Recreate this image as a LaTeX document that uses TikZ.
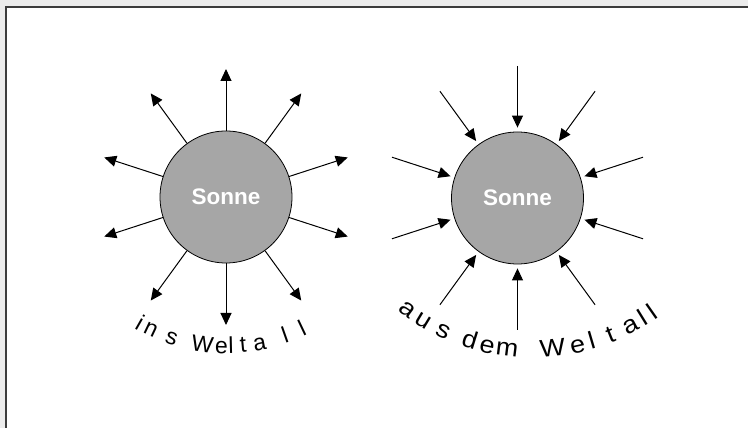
\documentclass[tikz,border=0pt]{standalone}
\usepackage{fontspec}
\setmainfont{Liberation Sans}
\newfontfamily\arcfontL{Liberation Sans}
\newfontfamily\arcfontR[FakeStretch=1.1]{Liberation Sans}
\usetikzlibrary{arrows.meta,calc}
\definecolor{sungray}{RGB}{166,166,166}
\definecolor{framegray}{RGB}{60,60,60}
\definecolor{bggray}{RGB}{236,236,236}
\begin{document}
\begin{tikzpicture}[x=1pt,y=1pt,
  sun/.style={circle, draw=black, line width=0.8pt, fill=sungray, minimum size=132pt, inner sep=0pt,
    font=\bfseries\fontsize{22.5}{24}\selectfont, text=white},
  ray/.style={line width=1pt, -{Triangle[length=12pt,width=11pt]}},
  letterL/.style={anchor=base, inner sep=0pt, font=\arcfontL\fontsize{23}{23}\selectfont},
  letterR/.style={anchor=base, inner sep=0pt, font=\arcfontR\fontsize{24.5}{24.5}\selectfont}]
\useasboundingbox (0,0) rectangle (748,428);
\fill[bggray] (0,0) rectangle (748,428);
\filldraw[fill=white, draw=framegray, line width=2pt] (6,-10) rectangle (760,421);

\node[sun] (s1) at (226,231) {Sonne};
\node[sun] (s2) at (517.5,230) {Sonne};

% outward rays
\foreach \a [count=\k] in {18,54,90,126,162,198,234,270,306,342} {
  \coordinate (o\k) at ($(s1.center)+(\a:128)$);
  \draw[ray] (s1.\a) -- (o\k);
}
% inward rays
\foreach \a [count=\k] in {18,54,90,126,162,198,234,270,306,342} {
  \coordinate (t\k) at ($(s2.center)+(\a:132)$);
  \draw[ray, shorten >=4pt] (t\k) -- (s2.\a);
}

% curved labels
\coordinate (cL) at (226.8,257.8);
\foreach \ch/\ang [count=\k] in {i/240.3, n/244.6, s/251.8, W/262.0, e/268.3, l/271.4, t/275.3, a/280.7, l/289.4, l/295.4} {
  \node[letterL, rotate=\ang+90] (L\k) at ($(cL)+(\ang:183.2)$) {\ch};
}
\coordinate (cR) at (532.4,288.2);
\foreach \ch/\ang [count=\k] in {a/233.6, u/238.8, s/245.2, d/252.7, e/257.6, m/263.1, W/275.5, e/282.4, l/286.4, t/291.8, a/297.9, l/301.7, l/305} {
  \node[letterR, rotate=\ang+90] (R\k) at ($(cR)+(\ang:218)$) {\ch};
}
\end{tikzpicture}
\end{document}
